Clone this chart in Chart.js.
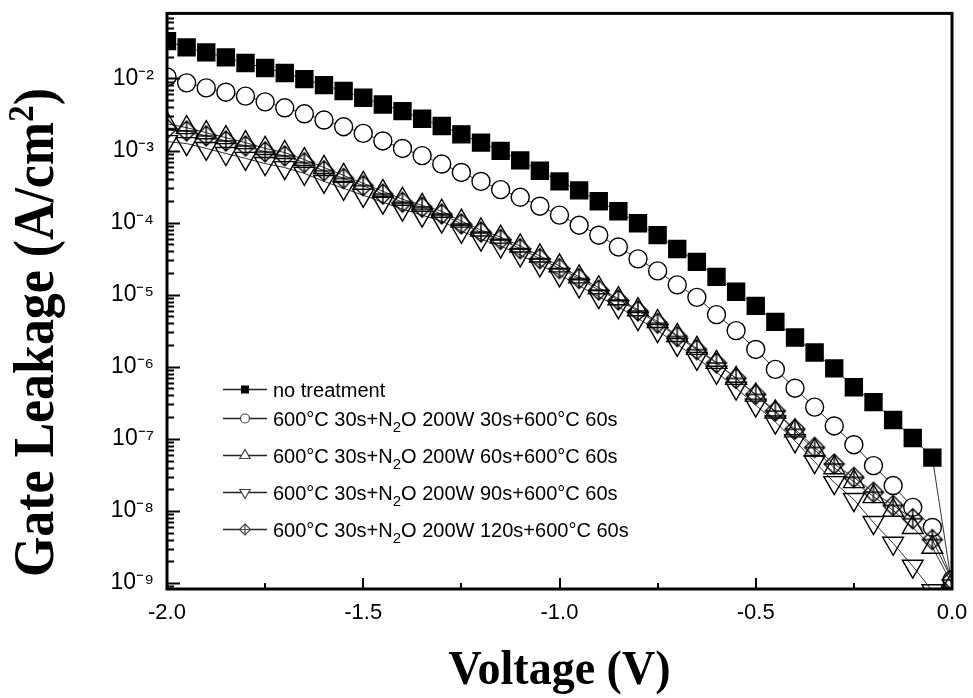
<!DOCTYPE html>
<html>
<head>
<meta charset="utf-8">
<script src="https://cdn.jsdelivr.net/npm/chart.js@4/dist/chart.umd.min.js"></script>
<style>
    html, body { margin: 0; padding: 0; background: #fff; }
</style>
</head>
<body>
<canvas id="myChart" width="973" height="698"></canvas>
<script>
// values (V, A/cm2)
var voltage = [-2.00, -1.95, -1.90, -1.85, -1.80, -1.75, -1.70, -1.65, -1.60, -1.55,
               -1.50, -1.45, -1.40, -1.35, -1.30, -1.25, -1.20, -1.15, -1.10, -1.05,
               -1.00, -0.95, -0.90, -0.85, -0.80, -0.75, -0.70, -0.65, -0.60, -0.55,
               -0.50, -0.45, -0.40, -0.35, -0.30, -0.25, -0.20, -0.15, -0.10, -0.05, 0.00];

var noTreatment = [3.3e-2, 2.7e-2, 2.3e-2, 1.96e-2, 1.64e-2, 1.40e-2, 1.19e-2, 9.8e-3, 8.1e-3, 6.7e-3,
                   5.4e-3, 4.35e-3, 3.53e-3, 2.76e-3, 2.19e-3, 1.68e-3, 1.29e-3, 9.9e-4, 7.3e-4, 5.25e-4,
                   3.73e-4, 2.8e-4, 1.98e-4, 1.44e-4, 9.8e-5, 6.7e-5, 4.3e-5, 2.85e-5, 1.77e-5, 1.10e-5,
                   7.0e-6, 4.2e-6, 2.55e-6, 1.58e-6, 9.5e-7, 5.2e-7, 3.24e-7, 1.83e-7, 1.03e-7, 5.5e-8, 9e-10];

var n2o30s = [1.05e-2, 8.7e-3, 7.4e-3, 6.45e-3, 5.7e-3, 4.74e-3, 3.92e-3, 3.24e-3, 2.65e-3, 2.14e-3,
              1.73e-3, 1.36e-3, 1.07e-3, 8.5e-4, 6.5e-4, 4.97e-4, 3.73e-4, 2.87e-4, 2.25e-4, 1.69e-4,
              1.27e-4, 9.2e-5, 6.7e-5, 4.6e-5, 3.14e-5, 2.14e-5, 1.37e-5, 9.2e-6, 5.3e-6, 3.18e-6,
              1.74e-6, 9.2e-7, 5.05e-7, 2.76e-7, 1.51e-7, 8.3e-8, 4.25e-8, 2.25e-8, 1.12e-8, 5.9e-9, 1.1e-9];

var n2o60s = [2.36e-3, 2.08e-3, 1.77e-3, 1.51e-3, 1.29e-3, 1.07e-3, 9.4e-4, 7.5e-4, 5.83e-4, 4.52e-4,
              3.51e-4, 2.72e-4, 2.11e-4, 1.74e-4, 1.44e-4, 1.05e-4, 7.9e-5, 6.3e-5, 4.74e-5, 3.45e-5,
              2.51e-5, 1.77e-5, 1.25e-5, 8.8e-6, 6.2e-6, 4.25e-6, 2.72e-6, 1.80e-6, 1.15e-6, 6.9e-7,
              4.04e-7, 2.36e-7, 1.29e-7, 7.0e-8, 3.98e-8, 2.55e-8, 1.58e-8, 1.02e-8, 5.9e-9, 3.14e-9, 9.7e-10];

var n2o90s = [1.33e-3, 1.25e-3, 1.07e-3, 9.1e-4, 7.8e-4, 6.6e-4, 5.8e-4, 4.82e-4, 3.73e-4, 2.99e-4,
              2.39e-4, 1.92e-4, 1.54e-4, 1.27e-4, 1.05e-4, 7.6e-5, 5.9e-5, 4.74e-5, 3.56e-5, 2.59e-5,
              1.89e-5, 1.33e-5, 9.4e-6, 6.8e-6, 4.67e-6, 3.18e-6, 2.04e-6, 1.31e-6, 8.4e-7, 5.05e-7,
              2.94e-7, 1.71e-7, 9.4e-8, 4.82e-8, 2.47e-8, 1.44e-8, 6.9e-9, 3.56e-9, 1.71e-9, 7.8e-10, 5.8e-10];

var n2o120s = [2.01e-3, 1.87e-3, 1.60e-3, 1.36e-3, 1.16e-3, 9.6e-4, 8.45e-4, 6.8e-4, 5.25e-4, 4.11e-4,
               3.26e-4, 2.49e-4, 1.92e-4, 1.64e-4, 1.32e-4, 9.6e-5, 7.4e-5, 5.86e-5, 4.35e-5, 3.17e-5,
               2.31e-5, 1.68e-5, 1.16e-5, 8.45e-6, 5.96e-6, 4.02e-6, 2.63e-6, 1.73e-6, 1.13e-6, 6.9e-7,
               4.14e-7, 2.43e-7, 1.36e-7, 7.6e-8, 4.48e-8, 2.92e-8, 1.82e-8, 1.19e-8, 7.8e-9, 4.0e-9, 1.1e-9];

var seriesNames = ["no treatment",
                   "600°C 30s+N2O 200W 30s+600°C 60s",
                   "600°C 30s+N2O 200W 60s+600°C 60s",
                   "600°C 30s+N2O 200W 90s+600°C 60s",
                   "600°C 30s+N2O 200W 120s+600°C 60s"];

var xTicks = [-2.0, -1.5, -1.0, -0.5, 0.0];
var xTickLabels = ["-2.0", "-1.5", "-1.0", "-0.5", "0.0"];
var yTicks = [1e-9, 1e-8, 1e-7, 1e-6, 1e-5, 1e-4, 1e-3, 1e-2];
var yTickLabels = ["10⁻⁹", "10⁻⁸", "10⁻⁷", "10⁻⁶", "10⁻⁵", "10⁻⁴", "10⁻³", "10⁻²"];

var sansFont = '"Liberation Sans", Arial, sans-serif';
var serifFont = '"Liberation Serif", "Times New Roman", serif';

//diamond with a plus inside, used as point image
function diamondPlus(r, lw) {
    var c = document.createElement("canvas");
    var s = Math.ceil(2 * r + 2 * lw + 2);
    if (s % 2) s += 1;
    c.width = s; c.height = s;
    var g = c.getContext("2d");
    var m = s / 2;
    g.strokeStyle = "#000";
    g.lineWidth = lw;
    g.beginPath();
    g.moveTo(m, m - r); g.lineTo(m + r, m); g.lineTo(m, m + r); g.lineTo(m - r, m); g.closePath();
    g.moveTo(m, m - r); g.lineTo(m, m + r);
    g.moveTo(m - r, m); g.lineTo(m + r, m);
    g.stroke();
    return c;
}

function makeSeries(data, style, radius, fill, rotation, order) {
    return {
        data: voltage.map(function (v, i) { return { x: v, y: data[i] }; }),
        showLine: true,
        borderColor: "#333",
        borderWidth: 1,
        pointStyle: style,
        pointRadius: radius,
        pointRotation: rotation,
        pointBorderColor: "#000",
        pointBackgroundColor: fill,
        pointBorderWidth: 1.4,
        clip: 0,
        order: order
    };
}

//small marker for legend
function legendMarker(ctx, kind, x, y) {
    ctx.beginPath();
    if (kind === 0) {
        ctx.fillStyle = "#000";
        ctx.fillRect(x - 4, y - 4, 8, 8);
        return;
    }
    ctx.fillStyle = "#fff";
    ctx.strokeStyle = "#444";
    ctx.lineWidth = 1.2;
    if (kind === 1) {
        ctx.arc(x, y, 4.5, 0, Math.PI * 2);
    } else if (kind === 2) {
        ctx.moveTo(x, y - 6); ctx.lineTo(x + 5.2, y + 3); ctx.lineTo(x - 5.2, y + 3); ctx.closePath();
    } else if (kind === 3) {
        ctx.moveTo(x, y + 6); ctx.lineTo(x + 5.2, y - 3); ctx.lineTo(x - 5.2, y - 3); ctx.closePath();
    } else {
        ctx.moveTo(x, y - 5.5); ctx.lineTo(x + 5.5, y); ctx.lineTo(x, y + 5.5); ctx.lineTo(x - 5.5, y); ctx.closePath();
    }
    ctx.fill();
    ctx.stroke();
    if (kind === 4) {
        ctx.beginPath();
        ctx.moveTo(x, y - 5.5); ctx.lineTo(x, y + 5.5);
        ctx.moveTo(x - 5.5, y); ctx.lineTo(x + 5.5, y);
        ctx.stroke();
    }
}

function drawLabel(ctx, text, x, y) {
    var k = text.indexOf("N2O");
    if (k < 0) { ctx.fillText(text, x, y); return; }
    var head = text.slice(0, k + 1);
    ctx.fillText(head, x, y);
    x += ctx.measureText(head).width;
    ctx.font = "15px " + sansFont;
    ctx.fillText("2", x, y + 6);
    x += ctx.measureText("2").width;
    ctx.font = "20px " + sansFont;
    ctx.fillText(text.slice(k + 2), x, y);
}

var decorations = {
    id: "decorations",
    afterDraw: function (chart) {
        var ctx = chart.ctx, a = chart.chartArea;
        var xs = chart.scales.x, ys = chart.scales.y;
        ctx.save();

        //inner tick marks
        ctx.strokeStyle = "#000";
        ctx.lineWidth = 2;
        ctx.beginPath();
        for (var i = 0; i <= 8; i++) {
            var px = Math.round(xs.getPixelForValue(-2 + i * 0.25));
            var len = (i % 2 === 0) ? 11 : 6;
            ctx.moveTo(px, a.bottom); ctx.lineTo(px, a.bottom - len);
        }
        for (var d = -10; d <= -1; d++) {
            for (var m = 1; m <= 9; m++) {
                var val = m * Math.pow(10, d);
                if (val < ys.min || val > ys.max) continue;
                var py = Math.round(ys.getPixelForValue(val)) + 0.5;
                ctx.moveTo(a.left, py); ctx.lineTo(a.left + (m === 1 ? 13 : 7), py);
            }
        }
        ctx.stroke();

        //frame
        ctx.lineWidth = 3;
        ctx.strokeRect(a.left, a.top, a.right - a.left, a.bottom - a.top);

        //legend
        var rows = [397, 426, 463, 500, 537];
        ctx.textAlign = "left";
        ctx.textBaseline = "alphabetic";
        for (var r = 0; r < seriesNames.length; r++) {
            var cy = rows[r] - 7.5;
            ctx.strokeStyle = "#222";
            ctx.lineWidth = 1.5;
            ctx.beginPath();
            ctx.moveTo(223, cy); ctx.lineTo(267, cy);
            ctx.stroke();
            legendMarker(ctx, r, 245, cy);
            ctx.fillStyle = "#000";
            ctx.font = "20px " + sansFont;
            drawLabel(ctx, seriesNames[r], 273, rows[r]);
        }

        //axis titles
        ctx.fillStyle = "#000";
        ctx.font = "bold 48px " + serifFont;
        var xt = "Voltage (V)";
        var xw = ctx.measureText(xt).width;
        ctx.save();
        ctx.translate((a.left + a.right) / 2, 684);
        ctx.scale(222 / xw, 1);
        ctx.textAlign = "center";
        ctx.fillText(xt, 0, 0);
        ctx.restore();

        var yt = "Gate Leakage (A/cm";
        ctx.font = "bold 56px " + serifFont;
        var w1 = ctx.measureText(yt).width;
        ctx.font = "bold 36px " + serifFont;
        var w2 = ctx.measureText("2").width;
        ctx.font = "bold 56px " + serifFont;
        var w3 = ctx.measureText(")").width;
        var k = 489 / (w1 + w2 + w3);
        ctx.save();
        ctx.translate(53, 577);
        ctx.rotate(-Math.PI / 2);
        ctx.scale(k, 1);
        ctx.textAlign = "left";
        ctx.fillText(yt, 0, 0);
        ctx.font = "bold 36px " + serifFont;
        ctx.fillText("2", w1, -20);
        ctx.font = "bold 56px " + serifFont;
        ctx.fillText(")", w1 + w2, 0);
        ctx.restore();

        ctx.restore();
    }
};

var myChart = document.getElementById("myChart").getContext("2d");
var leakageChart = new Chart(myChart, {
    type: "scatter",
    data: {
        datasets: [
            makeSeries(noTreatment, "rect", 12, "#000", 0, 5),
            makeSeries(n2o30s, "circle", 9, "#fff", 0, 4),
            makeSeries(n2o60s, "triangle", 12, "rgba(255,255,255,0)", 0, 3),
            makeSeries(n2o90s, "triangle", 12, "rgba(255,255,255,0)", 180, 2),
            makeSeries(n2o120s, diamondPlus(10, 1.4), 10, "rgba(255,255,255,0)", 0, 1)
        ]
    },
    options: {
        responsive: false,
        animation: false,
        layout: { padding: { top: 10, right: 21, left: 0, bottom: 0 } },
        plugins: {
            legend: { display: false },
            tooltip: { enabled: false }
        },
        scales: {
            x: {
                type: "linear",
                min: -2,
                max: 0,
                grid: { display: false },
                border: { display: false },
                afterBuildTicks: function (scale) {
                    scale.ticks = xTicks.map(function (v) { return { value: v }; });
                },
                afterFit: function (scale) {
                    scale.height = 109;
                    scale.paddingLeft = 0;
                    scale.paddingRight = 0;
                },
                ticks: {
                    padding: 3,
                    color: "#000",
                    maxRotation: 0,
                    font: { family: sansFont, size: 22 },
                    callback: function (v) {
                        var i = xTicks.indexOf(Math.round(v * 10) / 10);
                        return i >= 0 ? xTickLabels[i] : "";
                    }
                }
            },
            y: {
                type: "logarithmic",
                min: 8.26e-10,
                max: 0.08,
                grid: { display: false },
                border: { display: false },
                afterBuildTicks: function (scale) {
                    scale.ticks = yTicks.map(function (v) { return { value: v }; });
                },
                afterFit: function (scale) {
                    scale.width = 167;
                    scale.paddingTop = 0;
                    scale.paddingBottom = 0;
                },
                ticks: {
                    padding: 5,
                    color: "#000",
                    autoSkip: false,
                    font: { family: sansFont, size: 23 },
                    callback: function (v) {
                        var i = Math.round(Math.log10(v)) + 9;
                        return (i >= 0 && i < yTickLabels.length) ? yTickLabels[i] : "";
                    }
                }
            }
        }
    },
    plugins: [decorations]
});
</script>
</body>
</html>
